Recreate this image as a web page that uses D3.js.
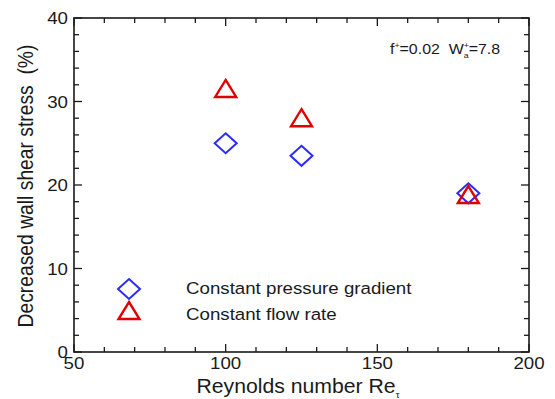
<!DOCTYPE html>
<html>
<head>
<meta charset="utf-8">
<script src="https://cdn.jsdelivr.net/npm/d3@7"></script>
<style>
  html, body { margin: 0; padding: 0; background: #fff; }
  svg { display: block; font-family: "Liberation Sans", Arial, sans-serif; }
</style>
</head>
<body>
<svg id="chart" width="555" height="399"></svg>
<script>
// Reynolds numbers and decreased wall shear stress (%)
const reynolds = [100, 125, 180];
const pressureGradient = [25.0, 23.5, 19.0];
const flowRate = [31.5, 28.0, 18.8];
const seriesNames = ["Constant pressure gradient", "Constant flow rate"];
const xMajorTicks = [50, 100, 150, 200];
const yMajorTicks = [0, 10, 20, 30, 40];

const W = 555, H = 399;
const margin = { left: 74, right: 26, top: 18, bottom: 47 };
const svg = d3.select("#chart");
const stretch = 1.1; // glyphs are drawn slightly wide

const x = d3.scaleLinear().domain([50, 200]).range([margin.left, W - margin.right]);
const y = d3.scaleLinear().domain([0, 40]).range([H - margin.bottom, margin.top]);

const ink = "#1a1a1a";
const blue = "#2b2bff";
const red = "#e00000";

// Text helper: places a widened text at (px, py)
function label(parent, px, py, size, anchor) {
  return parent.append("text")
    .attr("transform", `translate(${px},${py}) scale(${stretch},1)`)
    .attr("text-anchor", anchor || "start")
    .attr("font-size", size).attr("fill", ink);
}

// Frame
svg.append("rect")
  .attr("x", x(50)).attr("y", y(40))
  .attr("width", x(200) - x(50)).attr("height", y(0) - y(40))
  .attr("fill", "none").attr("stroke", ink).attr("stroke-width", 1.6);

// Inward ticks on all four sides
const xMinor = d3.range(50, 201, 10);
const yMinor = d3.range(0, 41, 2);
const tickGroup = svg.append("g").attr("stroke", ink).attr("stroke-width", 1.3);
xMinor.forEach(v => {
  const len = xMajorTicks.includes(v) ? 8 : 5;
  tickGroup.append("line").attr("x1", x(v)).attr("x2", x(v)).attr("y1", y(0)).attr("y2", y(0) - len);
  tickGroup.append("line").attr("x1", x(v)).attr("x2", x(v)).attr("y1", y(40)).attr("y2", y(40) + len);
});
yMinor.forEach(v => {
  const len = yMajorTicks.includes(v) ? 8 : 5;
  tickGroup.append("line").attr("x1", x(50)).attr("x2", x(50) + len).attr("y1", y(v)).attr("y2", y(v));
  tickGroup.append("line").attr("x1", x(200)).attr("x2", x(200) - len).attr("y1", y(v)).attr("y2", y(v));
});

// Tick labels
const xl = svg.append("g");
xMajorTicks.forEach(v => label(xl, x(v), y(0) + 17, 17, "middle").text(v));
const yl = svg.append("g");
yMajorTicks.forEach(v => label(yl, x(50) - 6, y(v) + 6, 17, "end").text(v));

// Axis titles
const xt = label(svg, 298, 393, 19.3, "middle");
xt.append("tspan").text("Reynolds number Re");
xt.append("tspan").attr("font-size", 9).attr("dy", 5).text("τ");

svg.append("text")
  .attr("transform", `translate(33,186) scale(${stretch},1) rotate(-90)`)
  .attr("text-anchor", "middle").attr("font-size", 19.3).attr("fill", ink)
  .attr("xml:space", "preserve")
  .text("Decreased wall shear stress  (%)");

// Parameter annotation
const ann = label(svg, 390, 54, 14.5, "start");
ann.append("tspan").text("f");
ann.append("tspan").attr("font-size", 8).attr("dy", -6).text("+");
ann.append("tspan").attr("xml:space", "preserve").attr("dy", 6).text("=0.02  W");
ann.append("tspan").attr("font-size", 8).attr("dy", -6).text("+");
ann.append("tspan").attr("font-size", 8).attr("dx", -4.7).attr("dy", 10).text("a");
ann.append("tspan").attr("dy", -4).text("=7.8");

// Marker shapes
const diamond = (cx, cy) => `M${cx},${cy - 10}L${cx + 11},${cy}L${cx},${cy + 10}L${cx - 11},${cy}Z`;
const triangle = (cx, cy) => `M${cx},${cy - 9}L${cx + 10.5},${cy + 8}L${cx - 10.5},${cy + 8}Z`;

svg.append("g").selectAll("path").data(reynolds).join("path")
  .attr("d", (d, i) => diamond(x(d), y(pressureGradient[i])))
  .attr("fill", "none").attr("stroke", blue).attr("stroke-width", 2)
  .attr("stroke-linejoin", "miter");

svg.append("g").selectAll("path").data(reynolds).join("path")
  .attr("d", (d, i) => triangle(x(d), y(flowRate[i])))
  .attr("fill", "none").attr("stroke", red).attr("stroke-width", 2.4)
  .attr("stroke-linejoin", "miter");

// Legend
const legend = svg.append("g");
legend.append("path").attr("d", diamond(129, 289))
  .attr("fill", "none").attr("stroke", blue).attr("stroke-width", 2);
legend.append("path").attr("d", triangle(129, 311))
  .attr("fill", "none").attr("stroke", red).attr("stroke-width", 2.4);
label(legend, 186, 294, 17, "start").text(seriesNames[0]);
label(legend, 186, 320, 17, "start").text(seriesNames[1]);
</script>
</body>
</html>
